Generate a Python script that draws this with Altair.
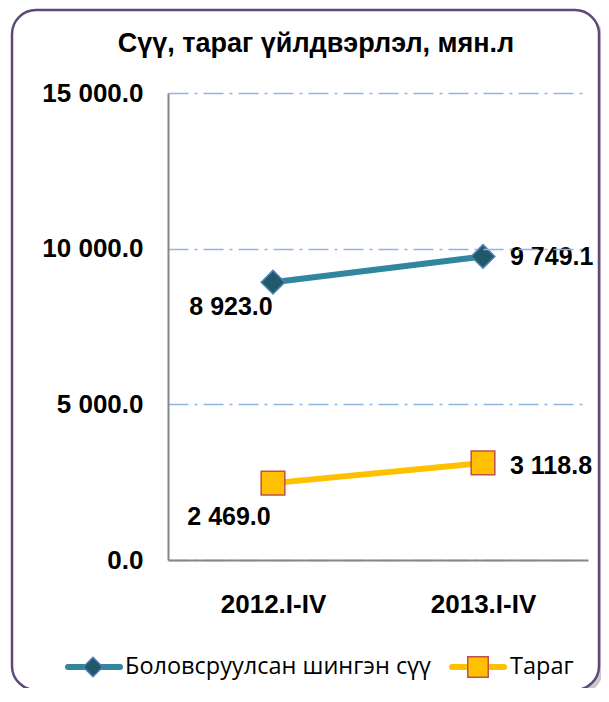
import altair as alt
import pandas as pd

periods = ["2012.I-IV", "2013.I-IV"]
series_names = ["Боловсруулсан шингэн сүү", "Тараг"]
milk = [8923.0, 9749.1]
yogurt = [2469.0, 3118.8]
y_ticks = [0, 5000, 10000, 15000]
title_text = "Сүү, тараг үйлдвэрлэл, мян.л"

rows = []
for p, v in zip(periods, milk):
    rows.append({"period": p, "series": series_names[0], "value": v})
for p, v in zip(periods, yogurt):
    rows.append({"period": p, "series": series_names[1], "value": v})
df = pd.DataFrame(rows)

TEAL = "#31859c"
TEAL_FILL = "#215968"
TEAL_EDGE = "#4f81bd"
YEL = "#ffc000"
YEL_EDGE = "#c0504d"
FONT = "Liberation Sans"

W, H = 420, 467

xenc = alt.X("period:N", sort=periods,
             scale=alt.Scale(type="point", padding=0.5),
             axis=alt.Axis(title=None, labelAngle=0, labelFont=FONT, labelFontWeight="bold",
                           labelFontSize=26, labelColor="#000000", labelPadding=31,
                           ticks=False, domainColor="#868686", domainWidth=2, grid=False, zindex=1))
yenc = alt.Y("value:Q", scale=alt.Scale(domain=[0, 15000], nice=False),
             axis=alt.Axis(title=None, values=y_ticks, labelFont=FONT, labelFontWeight="bold",
                           labelFontSize=26, labelColor="#000000", labelPadding=25,
                           labelExpr="replace(format(datum.value, ',.1f'), ',', ' ')",
                           ticks=False, domainColor="#868686", domainWidth=2, zindex=1,
                           grid=True, gridColor="#8eb4e3", gridDash=[20, 6, 3, 6], gridWidth=1.5))

one = pd.DataFrame({"k": [0]})
shadow = alt.Chart(one).mark_rect(cornerRadius=24, fill="#9a9a9a", opacity=0.55, clip=False).encode(
    x=alt.value(-152), x2=alt.value(435), y=alt.value(-79), y2=alt.value(601))
frame = alt.Chart(one).mark_rect(cornerRadius=24, fill="white", stroke="#5f497a", strokeWidth=2.5, clip=False).encode(
    x=alt.value(-156), x2=alt.value(431), y=alt.value(-83), y2=alt.value(597))

base = alt.Chart(df)
axes_layer = base.mark_point(opacity=0).encode(x=xenc, y=yenc)

milk_df = df[df.series == series_names[0]]
yog_df = df[df.series == series_names[1]]

milk_line = alt.Chart(milk_df).mark_line(color=TEAL, strokeWidth=6).encode(x=alt.X("period:N", sort=periods), y="value:Q")
milk_pts = alt.Chart(milk_df).mark_point(shape="diamond", filled=True, fill=TEAL_FILL, stroke=TEAL_EDGE,
                                         strokeWidth=1.5, size=560, opacity=1).encode(
    x=alt.X("period:N", sort=periods), y="value:Q")
yog_line = alt.Chart(yog_df).mark_line(color=YEL, strokeWidth=6).encode(x=alt.X("period:N", sort=periods), y="value:Q")
yog_pts = alt.Chart(yog_df).mark_point(shape="square", filled=True, fill=YEL, stroke=YEL_EDGE,
                                       strokeWidth=1.5, size=560, opacity=1).encode(
    x=alt.X("period:N", sort=periods), y="value:Q")

label_fmt = "replace(format(datum.value, ',.1f'), ',', ' ')"
offsets = {
    (series_names[0], periods[0]): dict(align="center", dx=-42, dy=25),
    (series_names[0], periods[1]): dict(align="left", dx=27, dy=1),
    (series_names[1], periods[0]): dict(align="center", dx=-44, dy=34),
    (series_names[1], periods[1]): dict(align="left", dx=27, dy=3),
}
labels = []
for (s, p), o in offsets.items():
    sub = df[(df.series == s) & (df.period == p)]
    labels.append(alt.Chart(sub).mark_text(font=FONT, fontWeight="bold", fontSize=25, color="#000000",
                                           baseline="middle", **o).encode(
        x=alt.X("period:N", sort=periods), y="value:Q", text=alt.Text("label:N")
    ).transform_calculate(label=label_fmt))

title = alt.Chart(one).mark_text(font=FONT, fontWeight="bold", fontSize=27, color="#000000",
                                 align="center", baseline="middle").encode(
    x=alt.value(148), y=alt.value(-49), text=alt.datum(title_text))

# legend
LY = 574
leg_milk_df = pd.DataFrame({"name": [series_names[0]]})
leg_yog_df = pd.DataFrame({"name": [series_names[1]]})
leg = [
    alt.Chart(leg_milk_df).mark_rule(color=TEAL, strokeWidth=6, strokeCap="round").encode(
        x=alt.value(-100), x2=alt.value(-48), y=alt.value(LY)),
    alt.Chart(leg_milk_df).mark_point(shape="diamond", filled=True, fill=TEAL_FILL, stroke=TEAL_EDGE,
                                      strokeWidth=1.5, size=380, opacity=1).encode(
        x=alt.value(-75), y=alt.value(LY)),
    alt.Chart(leg_milk_df).mark_text(font="Open Sans", fontSize=23.5, color="#000000", align="left",
                                     baseline="middle").encode(
        x=alt.value(-43), y=alt.value(LY), text="name:N"),
    alt.Chart(leg_yog_df).mark_rule(color=YEL, strokeWidth=6, strokeCap="round").encode(
        x=alt.value(284), x2=alt.value(336), y=alt.value(LY)),
    alt.Chart(leg_yog_df).mark_point(shape="square", filled=True, fill=YEL, stroke=YEL_EDGE,
                                     strokeWidth=1.5, size=420, opacity=1).encode(
        x=alt.value(310), y=alt.value(LY)),
    alt.Chart(leg_yog_df).mark_text(font="Open Sans", fontSize=23.5, color="#000000", align="left",
                                    baseline="middle").encode(
        x=alt.value(342), y=alt.value(LY), text="name:N"),
]

chart = alt.layer(
    shadow, frame, axes_layer, milk_line, yog_line, milk_pts, yog_pts, *labels, title, *leg
).properties(
    width=W, height=H,
    autosize=alt.AutoSizeParams(type="none"),
    padding={"left": 160, "top": 85, "right": 13, "bottom": 128},
).configure_view(stroke=None).configure(background="white")

chart.save("out.html", embed_options={"renderer": "svg", "actions": False})
